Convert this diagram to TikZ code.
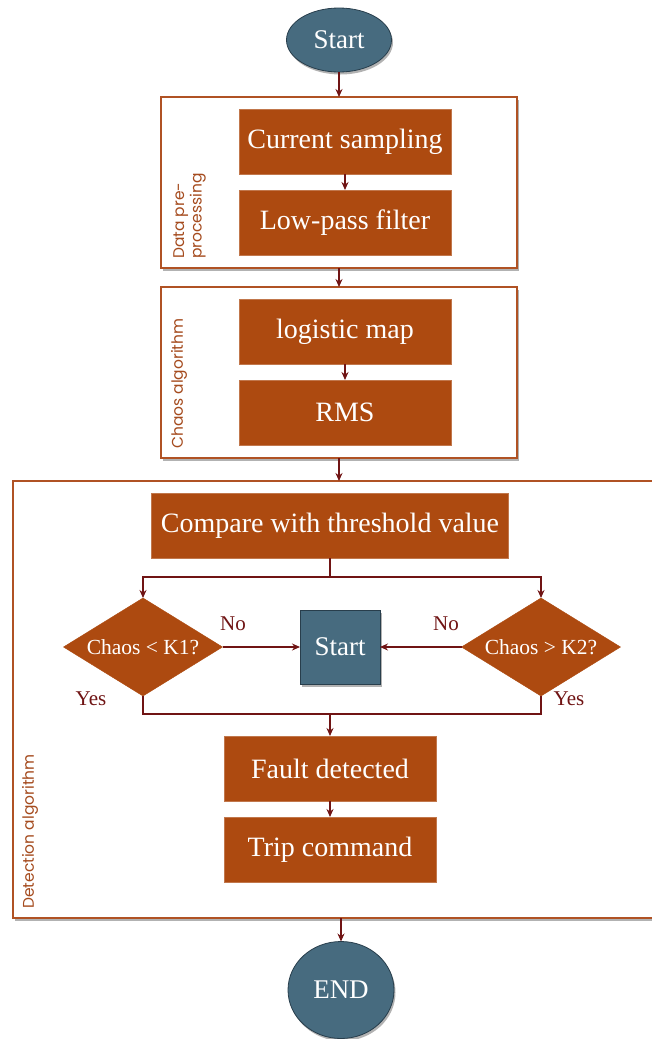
\documentclass[tikz,border=0pt]{standalone}
\usepackage{fontspec}
\setmainfont{Liberation Serif}
\newfontfamily\labfont{Poppins}
\usetikzlibrary{shapes.geometric,shadows,arrows.meta,calc}
\definecolor{rust}{RGB}{173,74,16}
\definecolor{slate}{RGB}{71,107,127}
\definecolor{slateedge}{RGB}{40,62,76}
\definecolor{arrowc}{RGB}{112,20,20}
\definecolor{groupc}{RGB}{176,82,36}
\definecolor{labc}{RGB}{165,75,30}
\begin{document}
\begin{tikzpicture}[x=1pt,y=-1pt,
  shad/.style={drop shadow={shadow xshift=1.5pt,shadow yshift=-2.5pt,opacity=0.5,fill=black!60}},
  procbox/.style={rectangle,fill=rust,draw=rust!75!white,line width=0.6pt,minimum width=212pt,minimum height=65pt,inner sep=0pt,outer sep=0pt,text=white,font=\fontsize{28}{32}\selectfont},
  groupbox/.style={rectangle,draw=groupc,line width=1.1pt,fill=white,inner sep=0pt,outer sep=0pt,shad},
  termshape/.style={ellipse,fill=slate,draw=slateedge,line width=0.8pt,inner sep=0pt,outer sep=0pt,text=white,font=\fontsize{27}{31}\selectfont,shad},
  decide/.style={diamond,fill=rust,draw=rust,inner sep=0pt,outer sep=0pt,minimum width=159pt,minimum height=98pt,aspect=1.62,text=white,font=\fontsize{21.5}{25}\selectfont},
  grouplabel/.style={rotate=90,anchor=north west,inner sep=0pt,text=labc,font=\labfont\fontsize{15.5}{17.5}\selectfont,align=left},
  yn/.style={text=arrowc,font=\fontsize{21}{25}\selectfont,inner sep=0pt},
  arr/.style={draw=arrowc,line width=1.2pt,-{Stealth[length=8pt,width=7pt]}},
  ln/.style={draw=arrowc,line width=1.2pt}
]
\useasboundingbox (0,0) rectangle (651,1039);

% groups
\node[groupbox,minimum width=356pt,minimum height=171pt] (g1) at (339,182.5) {};
\node[groupbox,minimum width=356pt,minimum height=171pt] (g2) at (339,372.5) {};
\node[groupbox,minimum width=647pt,minimum height=437pt] (g3) at (336.5,699.5) {};

\node[grouplabel] (l1) at (173,259) {Data pre-\\processing};
\node[grouplabel] (l2) at (171,449) {Chaos algorithm};
\node[grouplabel] (l3) at (22,909) {Detection algorithm};

% terminals
\node[termshape,minimum width=105pt,minimum height=64pt] (start) at (339,40) {Start};
\node[termshape,minimum width=106pt,minimum height=97pt] (end) at (341,990) {END};

% process boxes
\node[procbox] (cs) at (345,141.5) {Current sampling};
\node[procbox] (lp) at (345,222.5) {Low-pass filter};
\node[procbox] (lm) at (345,331.5) {logistic map};
\node[procbox] (rms) at (345,412.5) {RMS};
\node[procbox,minimum width=357pt] (cmp) at (330,525.5) {Compare with threshold value};
\node[procbox] (fd) at (330,768.5) {Fault detected};
\node[procbox] (tc) at (330,849.5) {Trip command};

% decisions
\node[decide] (d1) at (143,647) {Chaos < K1?};
\node[decide] (d2) at (541,647) {Chaos > K2?};
\node[rectangle,fill=slate,draw=slateedge,line width=0.8pt,minimum width=80pt,minimum height=74pt,inner sep=0pt,outer sep=0pt,text=white,font=\fontsize{27}{31}\selectfont,shad] (st) at (340,647) {Start};

% labels
\node[yn] (no1) at (233,624) {No};
\node[yn] (no2) at (446,624) {No};
\node[yn] (yes1) at (91,699) {Yes};
\node[yn] (yes2) at (569,699) {Yes};

% connectors
\draw[arr] (start.south) -- (g1.north);
\draw[arr] (cs.south) -- (lp.north);
\draw[arr] (g1.south) -- (g2.north);
\draw[arr] (lm.south) -- (rms.north);
\draw[arr] (g2.south) -- (g2.south |- g3.north);
\coordinate (split) at ($(cmp.south)+(0,19)$);
\draw[ln] (cmp.south) -- (split);
\draw[arr] (split) -| (d1.north);
\draw[arr] (split) -| (d2.north);
\draw[arr] (d1.east) -- (st.west);
\draw[arr] (d2.west) -- (st.east);
\coordinate (join) at (fd.north |- 0,714);
\draw[ln] (d1.south) |- (join);
\draw[ln] (d2.south) |- (join);
\draw[arr] (join) -- (fd.north);
\draw[arr] (fd.south) -- (tc.north);
\draw[arr] (end.north |- g3.south) -- (end.north);
\end{tikzpicture}
\end{document}
